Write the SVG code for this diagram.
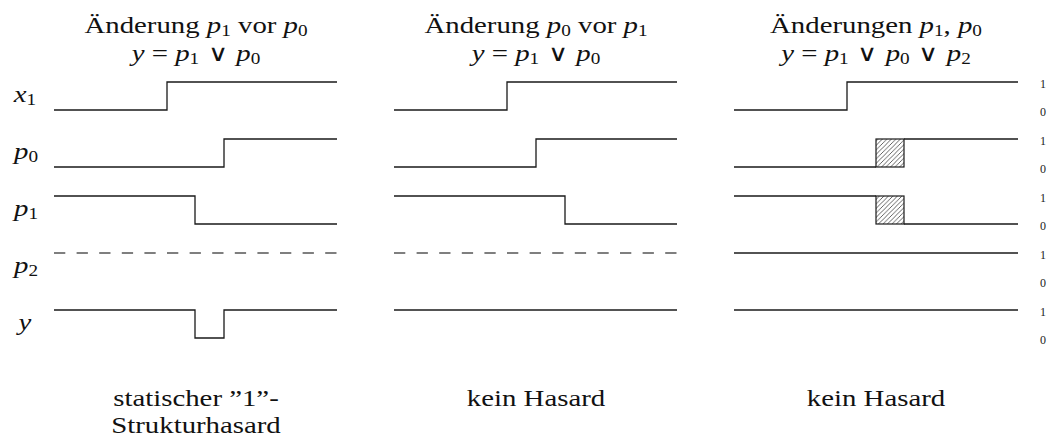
<svg xmlns="http://www.w3.org/2000/svg" width="1054" height="438" viewBox="0 0 1054 438">
<style>
text{font-family:"Liberation Serif","DejaVu Serif",serif;fill:#111}
.t{font-size:24px}
.lv{font-size:12px;text-anchor:middle;fill:#222}
.i{font-style:italic}
.s{font-size:16px}
.or{font-family:"DejaVu Sans",sans-serif;font-weight:200;font-size:23px}
.w{fill:none;stroke:#1a1a1a;stroke-width:1.3}
.d{fill:none;stroke:#555;stroke-width:1.3;stroke-dasharray:11.3 11.3}
.h{fill:url(#hatch);stroke:#1a1a1a;stroke-width:1.2}
</style>
<defs>
<pattern id="hatch" patternUnits="userSpaceOnUse" width="4.5" height="4.5">
<path d="M-1,1 l2,-2 M0,4.5 l4.5,-4.5 M3.5,5.5 l2,-2" stroke="#222" stroke-width="0.7"/>
</pattern>
</defs>
<rect width="1054" height="438" fill="#fff"/>

<g id="titles">
<g id="title1">
<text class="t" text-anchor="middle" transform="translate(196,33) scale(1.2,1)">Änderung <tspan class="i">p</tspan><tspan class="s" dy="3">1</tspan><tspan dy="-3"> vor </tspan><tspan class="i">p</tspan><tspan class="s" dy="3">0</tspan></text>
<text class="t" text-anchor="middle" transform="translate(196,61) scale(1.2,1)"><tspan class="i">y</tspan> = <tspan class="i">p</tspan><tspan class="s" dy="3">1</tspan><tspan class="or" dy="-3"> ∨ </tspan><tspan class="i">p</tspan><tspan class="s" dy="3">0</tspan></text>
</g>
<g id="title2">
<text class="t" text-anchor="middle" transform="translate(536,33) scale(1.2,1)">Änderung <tspan class="i">p</tspan><tspan class="s" dy="3">0</tspan><tspan dy="-3"> vor </tspan><tspan class="i">p</tspan><tspan class="s" dy="3">1</tspan></text>
<text class="t" text-anchor="middle" transform="translate(536,61) scale(1.2,1)"><tspan class="i">y</tspan> = <tspan class="i">p</tspan><tspan class="s" dy="3">1</tspan><tspan class="or" dy="-3"> ∨ </tspan><tspan class="i">p</tspan><tspan class="s" dy="3">0</tspan></text>
</g>
<g id="title3">
<text class="t" text-anchor="middle" transform="translate(876,33) scale(1.2,1)">Änderungen <tspan class="i">p</tspan><tspan class="s" dy="3">1</tspan><tspan dy="-3">, </tspan><tspan class="i">p</tspan><tspan class="s" dy="3">0</tspan></text>
<text class="t" text-anchor="middle" transform="translate(876,61) scale(1.2,1)"><tspan class="i">y</tspan> = <tspan class="i">p</tspan><tspan class="s" dy="3">1</tspan><tspan class="or" dy="-3"> ∨ </tspan><tspan class="i">p</tspan><tspan class="s" dy="3">0</tspan><tspan class="or" dy="-3"> ∨ </tspan><tspan class="i">p</tspan><tspan class="s" dy="3">2</tspan></text>
</g>
</g>

<g id="signal-labels">
<text class="t" text-anchor="middle" transform="translate(25,102) scale(1.2,1)"><tspan class="i">x</tspan><tspan class="s" dy="3">1</tspan></text>
<text class="t" text-anchor="middle" transform="translate(26,159) scale(1.2,1)"><tspan class="i">p</tspan><tspan class="s" dy="3">0</tspan></text>
<text class="t" text-anchor="middle" transform="translate(26,216) scale(1.2,1)"><tspan class="i">p</tspan><tspan class="s" dy="3">1</tspan></text>
<text class="t" text-anchor="middle" transform="translate(26,273) scale(1.2,1)"><tspan class="i">p</tspan><tspan class="s" dy="3">2</tspan></text>
<text class="t i" text-anchor="middle" transform="translate(25,330) scale(1.2,1)">y</text>
</g>

<g id="level-labels">
<text class="lv" x="1043" y="88">1</text><text class="lv" x="1043" y="116">0</text>
<text class="lv" x="1043" y="145">1</text><text class="lv" x="1043" y="173">0</text>
<text class="lv" x="1043" y="202">1</text><text class="lv" x="1043" y="230">0</text>
<text class="lv" x="1043" y="259">1</text><text class="lv" x="1043" y="287">0</text>
<text class="lv" x="1043" y="316">1</text><text class="lv" x="1043" y="344">0</text>
</g>

<g id="panel1">
<path class="w" d="M54,110 H167 V82 H337"/>
<path class="w" d="M54,167 H224 V139 H337"/>
<path class="w" d="M54,196 H195 V224 H337"/>
<path class="d" d="M54,253 H337"/>
<path class="w" d="M54,310 H195 V338 H224 V310 H337"/>
<text class="t" text-anchor="middle" transform="translate(196,406) scale(1.2,1)">statischer ”1”-</text>
<text class="t" text-anchor="middle" transform="translate(196,433) scale(1.2,1)">Strukturhasard</text>
</g>

<g id="panel2">
<path class="w" d="M394,110 H507 V82 H677"/>
<path class="w" d="M394,167 H536 V139 H677"/>
<path class="w" d="M394,196 H565 V224 H677"/>
<path class="d" d="M394,253 H677"/>
<path class="w" d="M394,310 H677"/>
<text class="t" text-anchor="middle" transform="translate(536,406) scale(1.2,1)">kein Hasard</text>
</g>

<g id="panel3">
<path class="w" d="M734,110 H847 V82 H1018"/>
<path class="w" d="M734,167 H876 M904,139 H1018"/>
<rect class="h" x="876" y="139" width="28" height="28"/>
<path class="w" d="M734,196 H876 M904,224 H1018"/>
<rect class="h" x="876" y="196" width="28" height="28"/>
<path class="w" d="M734,253 H1018"/>
<path class="w" d="M734,310 H1018"/>
<text class="t" text-anchor="middle" transform="translate(876,406) scale(1.2,1)">kein Hasard</text>
</g>
</svg>
